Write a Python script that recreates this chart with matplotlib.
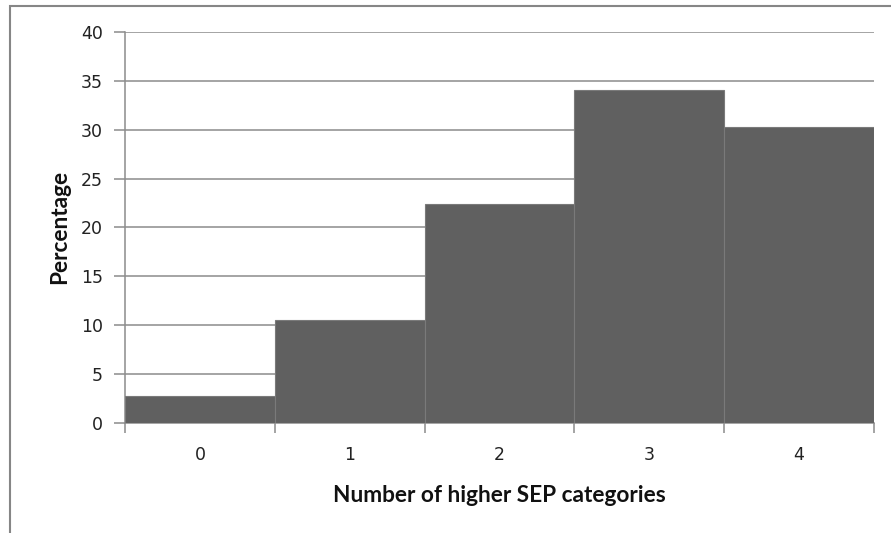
import matplotlib.pyplot as plt
from matplotlib.patches import Rectangle

# share of respondents by number of higher SEP categories
categories = ['0', '1', '2', '3', '4']
percentages = [2.7, 10.5, 22.4, 34.1, 30.3]

fig = plt.figure(figsize=(8.91, 5.33), dpi=100)
ax = fig.add_axes([125/891, 1 - 422.7/533, 749/891, 390.7/533])

# chart border, runs past the right and bottom edge
fig.patches.append(Rectangle((10/891, -0.1), 1.2, 1 - 6/533 + 0.1,
                             transform=fig.transFigure, fill=False,
                             edgecolor='#868686', linewidth=1.5))

xx = range(len(percentages))
ax.bar(xx, percentages, width=1.0, color='#606060', edgecolor='#7a7a7a',
       linewidth=0.8, zorder=3)

ax.set_xlim(-0.5, len(percentages) - 0.5)
ax.set_ylim(0, 40)
ax.set_yticks(range(0, 41, 5))
ax.grid(axis='y', color='#8c8c8c', linewidth=1.1, zorder=0)

ax.set_xticks(list(xx))
ax.set_xticklabels(categories)
ax.set_xticks([i - 0.5 for i in range(len(percentages) + 1)], minor=True)
ax.tick_params(axis='x', which='major', length=0, pad=17,
               labelsize=12.5, labelcolor='#222222')
ax.tick_params(axis='x', which='minor', length=7, width=1.1, color='#8c8c8c')
ax.tick_params(axis='y', length=8, width=1.1, color='#8c8c8c', pad=8,
               labelsize=12.5, labelcolor='#222222')

for side in ['top', 'right']:
    ax.spines[side].set_visible(False)
for side in ['left', 'bottom']:
    ax.spines[side].set_color('#8c8c8c')
    ax.spines[side].set_linewidth(1.1)

ax.set_xlabel('Number of higher SEP categories', fontsize=16.3,
              fontweight='bold', family='Lato', labelpad=15, color='#111111')
ax.set_ylabel('Percentage', fontsize=16.3, fontweight='bold', family='Lato',
              labelpad=8, color='#111111')

fig.savefig('out.png', dpi=100)
